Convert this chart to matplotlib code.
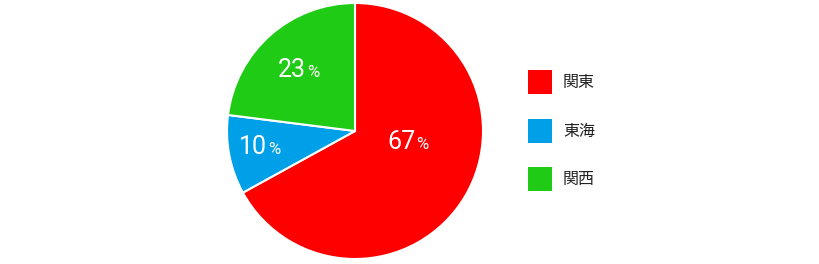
import matplotlib.pyplot as plt
from matplotlib.patches import Patch

regions = ['関東', '東海', '関西']
shares = [67, 10, 23]
colors = ['#ff0000', '#00a0e9', '#1fcb14']
# split point between number and "%" for each label (data units, radius = 1)
label_pos = [(0.47, -0.143), (-0.69, -0.182), (-0.38, 0.42)]

plt.rcParams['font.family'] = ['Roboto', 'Noto Sans CJK JP', 'DejaVu Sans']

fig = plt.figure(figsize=(8.2, 2.64), dpi=100)
W, H = 820, 264
cx, cy, r = 355, 131, 128
ax = fig.add_axes([(cx - r) / W, (H - cy - r) / H, 2 * r / W, 2 * r / H])

wedges, _ = ax.pie(shares, colors=colors, startangle=90, counterclock=False,
                   radius=1, wedgeprops=dict(edgecolor='white', linewidth=1.5))
ax.set_xlim(-1, 1)
ax.set_ylim(-1, 1)
ax.set_aspect('equal')
ax.axis('off')

for v, (x, y) in zip(shares, label_pos):
    ax.text(x, y, str(v), color='white', fontsize=18, ha='right', va='baseline')
    ax.annotate('%', (x, y), xytext=(0.8, 0), textcoords='offset points',
                color='white', fontsize=12, ha='left', va='baseline')

handles = [Patch(facecolor=c, edgecolor='none', linewidth=0) for c in colors]
fs = 11.5
px = fs * 100 / 72
hh = (24 / px - 0.245) / 0.65  # legend trims the handle box height
fig.legend(handles, regions, loc='upper left',
           bbox_to_anchor=(528 / W, 1 - 70 / H), frameon=False,
           prop={'family': ['Noto Sans CJK JP', 'DejaVu Sans'], 'size': fs},
           handlelength=24 / px, handleheight=hh,
           labelspacing=24.5 / px, handletextpad=11 / px,
           borderpad=0, borderaxespad=0, labelcolor='#222222')

fig.savefig('out.png', dpi=100)
